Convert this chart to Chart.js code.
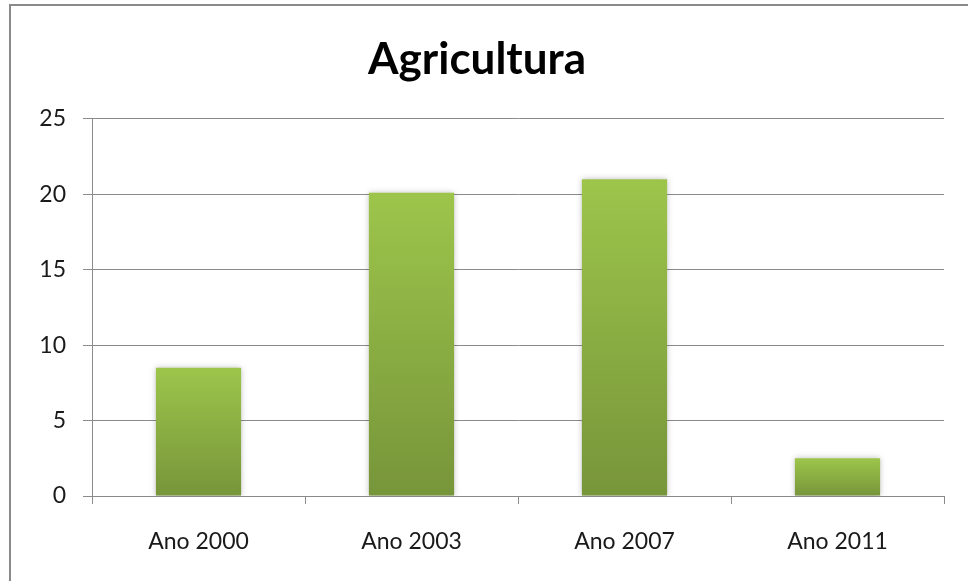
<!DOCTYPE html>
<html>
<head>
<meta charset="utf-8">
<script src="https://cdn.jsdelivr.net/npm/chart.js@4.4.0/dist/chart.umd.min.js"></script>
<style>
  html, body { margin: 0; padding: 0; background: #fff; }
  #wrap { position: relative; width: 968px; height: 581px; }
</style>
</head>
<body>
<div id="wrap"><canvas id="c" width="968" height="581"></canvas></div>
<script>
const categories = ["Ano 2000", "Ano 2003", "Ano 2007", "Ano 2011"];
const values = [8.5, 20.1, 21.0, 2.5];
const yTicks = [0, 5, 10, 15, 20, 25];
const chartTitle = "Agricultura";

const frame = {
  id: 'frame',
  beforeDraw(chart) {
    const ctx = chart.ctx;
    ctx.save();
    ctx.fillStyle = '#fff';
    ctx.fillRect(0, 0, chart.width, chart.height);
    ctx.strokeStyle = '#8a8a8a';
    ctx.lineWidth = 2;
    ctx.strokeRect(10, 5, 1000, 1000);
    ctx.restore();
  }
};

const barShadow = {
  id: 'barShadow',
  beforeDatasetsDraw(chart) {
    const ctx = chart.ctx;
    ctx.save();
    ctx.shadowColor = 'rgba(0,0,0,0.25)';
    ctx.shadowBlur = 6;
    ctx.shadowOffsetX = 0;
    ctx.shadowOffsetY = 0;
  },
  afterDatasetsDraw(chart) {
    chart.ctx.restore();
  }
};

function barGradient(context) {
  const chart = context.chart;
  const area = chart.chartArea;
  if (!area) return '#8fb446';
  const y = chart.scales.y;
  const v = context.raw;
  const top = y.getPixelForValue(v);
  const bottom = y.getPixelForValue(0);
  if (!isFinite(top) || top === bottom) return '#8fb446';
  const g = chart.ctx.createLinearGradient(0, top, 0, bottom);
  g.addColorStop(0, '#9dc54b');
  g.addColorStop(1, '#77953a');
  return g;
}

new Chart(document.getElementById('c'), {
  type: 'bar',
  data: {
    labels: categories,
    datasets: [{
      data: values,
      backgroundColor: barGradient,
      borderWidth: 0,
      barPercentage: 0.4,
      categoryPercentage: 1.0
    }]
  },
  plugins: [frame, barShadow],
  options: {
    responsive: false,
    animation: false,
    devicePixelRatio: 1,
    layout: { padding: { left: 10, right: 24, top: 0, bottom: 0 } },
    plugins: {
      legend: { display: false },
      tooltip: { enabled: false },
      title: {
        display: true,
        text: chartTitle,
        color: '#000',
        font: { family: 'Lato', size: 44, weight: 'bold', lineHeight: 1.2 },
        padding: { top: 33, bottom: 33 }
      }
    },
    scales: {
      x: {
        grid: { display: true, drawOnChartArea: false, drawTicks: true, tickLength: 8, color: '#8a8a8a', offset: true },
        border: { display: true, color: '#8a8a8a', width: 1 },
        ticks: { color: '#1a1a1a', font: { family: 'Lato', size: 23 }, padding: 24 },
        afterFit(s) { s.height = 85; }
      },
      y: {
        min: 0, max: 25,
        afterBuildTicks(s) { s.ticks = yTicks.map(v => ({ value: v })); },
        grid: { color: '#8a8a8a', tickLength: 9, lineWidth: 1 },
        border: { display: true, color: '#8a8a8a', width: 1 },
        ticks: { color: '#1a1a1a', font: { family: 'Lato', size: 23 }, padding: 17 },
        afterFit(s) { s.width = 82; }
      }
    }
  }
});
</script>
</body>
</html>
